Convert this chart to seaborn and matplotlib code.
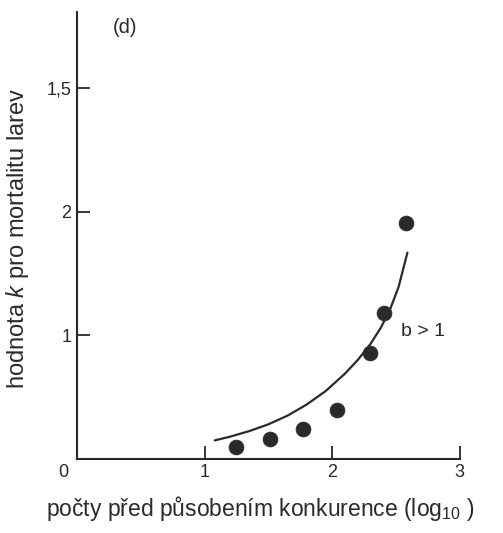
import matplotlib
matplotlib.use("Agg")
import matplotlib.pyplot as plt
import seaborn as sns
import pandas as pd

# Observed k-values for larval mortality vs. initial density (log10)
log_density = [1.25, 1.51, 1.77, 2.04, 2.30, 2.41, 2.58]
k_value = [0.10, 0.16, 0.24, 0.40, 0.86, 1.18, 1.91]

# Fitted curve (b > 1)
curve_x = [1.08, 1.20, 1.35, 1.50, 1.65, 1.80, 1.95, 2.10, 2.20, 2.30, 2.38, 2.45, 2.52, 2.59]
curve_y = [0.15, 0.18, 0.225, 0.28, 0.35, 0.44, 0.55, 0.69, 0.80, 0.93, 1.06, 1.20, 1.39, 1.67]

x_ticks = [1, 2, 3]
x_tick_labels = ["1", "2", "3"]
y_ticks = [1, 2, 3]
y_tick_labels = ["1", "2", "1,5"]

sns.set_theme(style="ticks")
plt.rcParams["font.family"] = ["Liberation Sans", "DejaVu Sans"]
plt.rcParams["mathtext.fontset"] = "custom"
plt.rcParams["mathtext.rm"] = "Liberation Sans"
plt.rcParams["mathtext.it"] = "Liberation Sans:italic"

ink = "#2a2a2a"
points = pd.DataFrame({"x": log_density, "y": k_value})
curve = pd.DataFrame({"x": curve_x, "y": curve_y})

fig = plt.figure(figsize=(5.03, 5.33), dpi=100)
ax = fig.add_axes([0.153, 0.139, 0.761, 0.839])

sns.lineplot(data=curve, x="x", y="y", ax=ax, color=ink, linewidth=1.6)
sns.scatterplot(data=points, x="x", y="y", ax=ax, color=ink, s=115,
                edgecolor=ink, linewidth=0.5, zorder=3)

ax.set_xlim(0, 3)
ax.set_ylim(0, 3.62)
ax.set_xticks(x_ticks)
ax.set_xticklabels(x_tick_labels)
ax.set_yticks(y_ticks)
ax.set_yticklabels(y_tick_labels)
ax.tick_params(direction="in", length=9.5, width=1.3, colors=ink,
               labelsize=13, pad=4, labelcolor=ink)

for side in ("top", "right"):
    ax.spines[side].set_visible(False)
for side in ("left", "bottom"):
    ax.spines[side].set_linewidth(1.5)
    ax.spines[side].set_color(ink)

ax.annotate("0", xy=(0, 0), xytext=(-10, -9.5), textcoords="offset points",
            ha="center", va="center", fontsize=13, color=ink)

ax.set_xlabel("počty před působením konkurence (log$_{10}$ )",
              fontsize=16.5, color=ink)
ax.set_ylabel("hodnota $k$ pro mortalitu larev", fontsize=17, color=ink)
ax.xaxis.set_label_coords(0.48, -0.078)
ax.yaxis.set_label_coords(-0.120, 0.494)

ax.text(0.38, 3.49, "(d)", fontsize=14.5, color=ink, ha="center", va="center")
ax.text(2.54, 1.03, "b > 1", fontsize=14, color=ink, ha="left", va="center")

fig.savefig("out.png", dpi=100, facecolor="white")
